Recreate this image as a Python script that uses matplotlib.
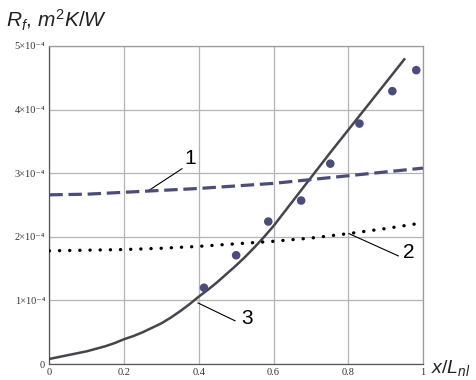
import matplotlib
matplotlib.use('Agg')
import matplotlib.pyplot as plt

plt.rcParams['mathtext.fontset'] = 'custom'
plt.rcParams['mathtext.rm'] = 'Liberation Sans'
plt.rcParams['mathtext.it'] = 'Liberation Sans:italic'

# curve 1 (dashed)
x1 = [0.0, 0.1, 0.2, 0.3, 0.4, 0.5, 0.6, 0.7, 0.8, 0.9, 1.0]
y1 = [2.66, 2.67, 2.70, 2.73, 2.76, 2.80, 2.84, 2.90, 2.96, 3.02, 3.08]
# curve 2 (dotted)
x2 = [0.0, 0.1, 0.2, 0.3, 0.4, 0.5, 0.6, 0.7, 0.8, 0.9, 1.0]
y2 = [1.78, 1.79, 1.80, 1.82, 1.85, 1.89, 1.93, 1.98, 2.05, 2.13, 2.22]
# curve 3 (solid)
x3 = [0.0, 0.025, 0.05, 0.075, 0.1, 0.125, 0.15, 0.175, 0.2, 0.225, 0.25,
      0.275, 0.3, 0.325, 0.35, 0.375, 0.4, 0.425, 0.45, 0.475, 0.5, 0.525,
      0.55, 0.575, 0.6, 0.625, 0.65, 0.7, 0.75, 0.8, 0.85, 0.9, 0.95]
y3 = [0.08, 0.11, 0.14, 0.17, 0.20, 0.24, 0.28, 0.33, 0.39, 0.44, 0.50,
      0.57, 0.64, 0.73, 0.83, 0.94, 1.06, 1.17, 1.29, 1.42, 1.55, 1.69,
      1.84, 2.00, 2.17, 2.36, 2.55, 2.93, 3.31, 3.68, 4.05, 4.42, 4.79]
# measured points
xp = [0.414, 0.500, 0.586, 0.674, 0.752, 0.830, 0.918, 0.982]
yp = [1.20, 1.71, 2.24, 2.57, 3.15, 3.78, 4.29, 4.62]

yticks = [0, 1, 2, 3, 4, 5]
ytick_labels = ['0', '1×10⁻⁴', '2×10⁻⁴', '3×10⁻⁴', '4×10⁻⁴', '5×10⁻⁴']
xticks = [0, 0.2, 0.4, 0.6, 0.8, 1]
xtick_labels = ['0', '0.2', '0.4', '0.6', '0.8', '1']

serif = ['Liberation Serif', 'DejaVu Serif']
sc = 1e-4
fig = plt.figure(figsize=(4.76, 3.8), dpi=100)
ax = fig.add_axes([0.1036, 0.042, 0.785, 0.837])

ax.plot(x3, [v * sc for v in y3], color='#45454d', lw=1.8, zorder=3)
ax.plot(x1, [v * sc for v in y1], color='#4b4b7c', lw=2.3,
        dashes=(4.2, 1.8), zorder=3)
ax.plot(x2, [v * sc for v in y2], color='black', lw=2.4,
        linestyle=(0, (0.05, 3.0)), dash_capstyle='round', zorder=3)
ax.scatter(xp, [v * sc for v in yp], s=38, color='#4b4b7c', zorder=4,
           edgecolors='none')

ax.set_xlim(0, 1)
ax.set_ylim(0, 5 * sc)
ax.set_xticks(xticks)
ax.set_xticklabels(xtick_labels, fontfamily=serif, fontsize=7.5,
                   color='#333333')
ax.set_yticks([v * sc for v in yticks])
ax.set_yticklabels(ytick_labels, fontfamily=serif, fontsize=7.5,
                   color='#333333')
ax.tick_params(length=0, pad=3)
ax.grid(True, color='#b4b4b4', lw=0.9)
for s in ax.spines.values():
    s.set_color('#9a9a9a')
    s.set_linewidth(0.9)
ax.spines['left'].set_color('#555555')
ax.spines['bottom'].set_color('#555555')

# curve labels with leader lines
ax.plot([0.355, 0.264], [3.07 * sc, 2.72 * sc], color='black', lw=0.8, zorder=2)
ax.text(0.377, 3.23 * sc, '1', fontsize=15, fontfamily='Liberation Sans',
        ha='center', va='center')
ax.plot([0.802, 0.934], [2.05 * sc, 1.70 * sc], color='black', lw=0.8, zorder=2)
ax.text(0.963, 1.75 * sc, '2', fontsize=15, fontfamily='Liberation Sans',
        ha='center', va='center')
ax.plot([0.398, 0.497], [0.96 * sc, 0.68 * sc], color='black', lw=0.8, zorder=2)
ax.text(0.529, 0.71 * sc, '3', fontsize=15, fontfamily='Liberation Sans',
        ha='center', va='center')

fig.text(0.012, 0.928, r'$R_f$, $m^2$$K/W$', fontsize=15,
         fontfamily='Liberation Sans', color='#222222', va='baseline')
fig.text(0.905, 0.018, r'$x/L_{nl}$', fontsize=14,
         fontfamily='Liberation Sans', color='#222222', va='baseline')

fig.savefig('out.png', dpi=100)
